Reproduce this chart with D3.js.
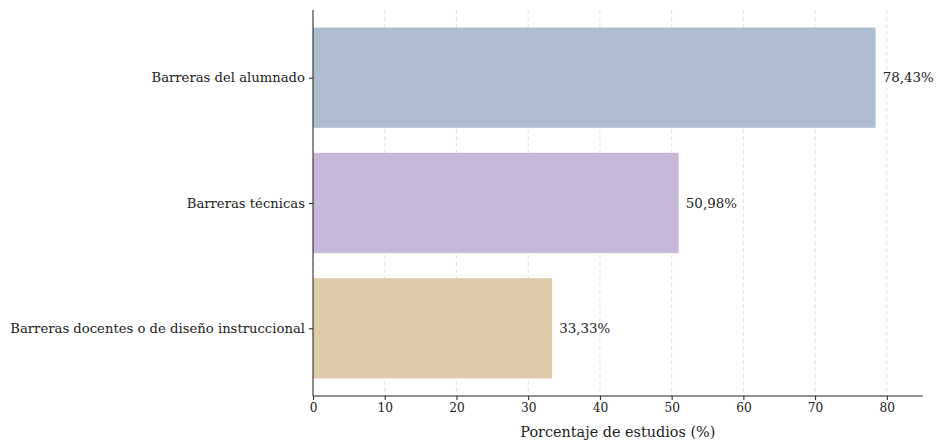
<!DOCTYPE html>
<html><head><meta charset="utf-8">
<script src="https://cdn.jsdelivr.net/npm/d3@7"></script>
<style>body{margin:0;background:#fff}</style>
</head><body>
<svg id="c" width="936" height="441"></svg>
<script>
const categories = ["Barreras del alumnado", "Barreras técnicas", "Barreras docentes o de diseño instruccional"];
const values = [78.43, 50.98, 33.33];
const valueLabels = ["78,43%", "50,98%", "33,33%"];
const colors = ["#adbdcf", "#c6b8d8", "#dccaab"];
const xTicks = [0, 10, 20, 30, 40, 50, 60, 70, 80];
const xLabel = "Porcentaje de estudios (%)";

const svg = d3.select("#c");
const m = {l: 313, r: 922.7, t: 10, b: 396};
const x = d3.scaleLinear().domain([0, 85]).range([m.l, m.r]);
const y = d3.scaleLinear().domain([-0.54, 2.54]).range([m.t, m.b]);
const bh = y(0.8) - y(0);

// grid
svg.append("g").selectAll("line").data(xTicks).join("line")
  .attr("x1", d => x(d)).attr("x2", d => x(d))
  .attr("y1", m.t).attr("y2", m.b)
  .attr("stroke", "#dcdcdc").attr("stroke-width", 0.8)
  .attr("stroke-dasharray", "4,3");

svg.append("g").selectAll("rect").data(values).join("rect")
  .attr("x", x(0)).attr("y", (d, i) => y(i) - bh / 2)
  .attr("width", d => x(d) - x(0)).attr("height", bh)
  .attr("fill", (d, i) => colors[i]);

svg.append("g").selectAll("text").data(values).join("text")
  .attr("x", d => x(d + 1)).attr("y", (d, i) => y(i))
  .attr("dy", "0.35em")
  .attr("font-family", "DejaVu Serif").attr("font-size", 13.4).attr("fill", "#222")
  .text((d, i) => valueLabels[i]);

// x axis
const xa = svg.append("g").attr("transform", `translate(0,${m.b})`)
  .call(d3.axisBottom(x).tickValues(xTicks).tickSize(4).tickPadding(3));
xa.select(".domain").attr("stroke", "#222").attr("d", `M${m.l},0H${m.r}`);
xa.selectAll("text").attr("font-family", "DejaVu Serif").attr("font-size", 12.2).attr("fill", "#222");
xa.selectAll("line").attr("stroke", "#222");

// y axis
const ya = svg.append("g").attr("transform", `translate(${m.l},0)`)
  .call(d3.axisLeft(y).tickValues([0, 1, 2]).tickFormat(i => categories[i]).tickSize(4).tickPadding(4));
ya.select(".domain").attr("stroke", "#222").attr("d", `M0,${m.t}V${m.b}`);
ya.selectAll("text").attr("font-family", "DejaVu Serif").attr("font-size", 13.2).attr("fill", "#222");
ya.selectAll("line").attr("stroke", "#222");

svg.append("text").attr("x", (m.l + m.r) / 2).attr("y", 437)
  .attr("text-anchor", "middle").attr("font-family", "DejaVu Serif")
  .attr("font-size", 14.4).attr("fill", "#222").text(xLabel);
</script>
</body></html>
